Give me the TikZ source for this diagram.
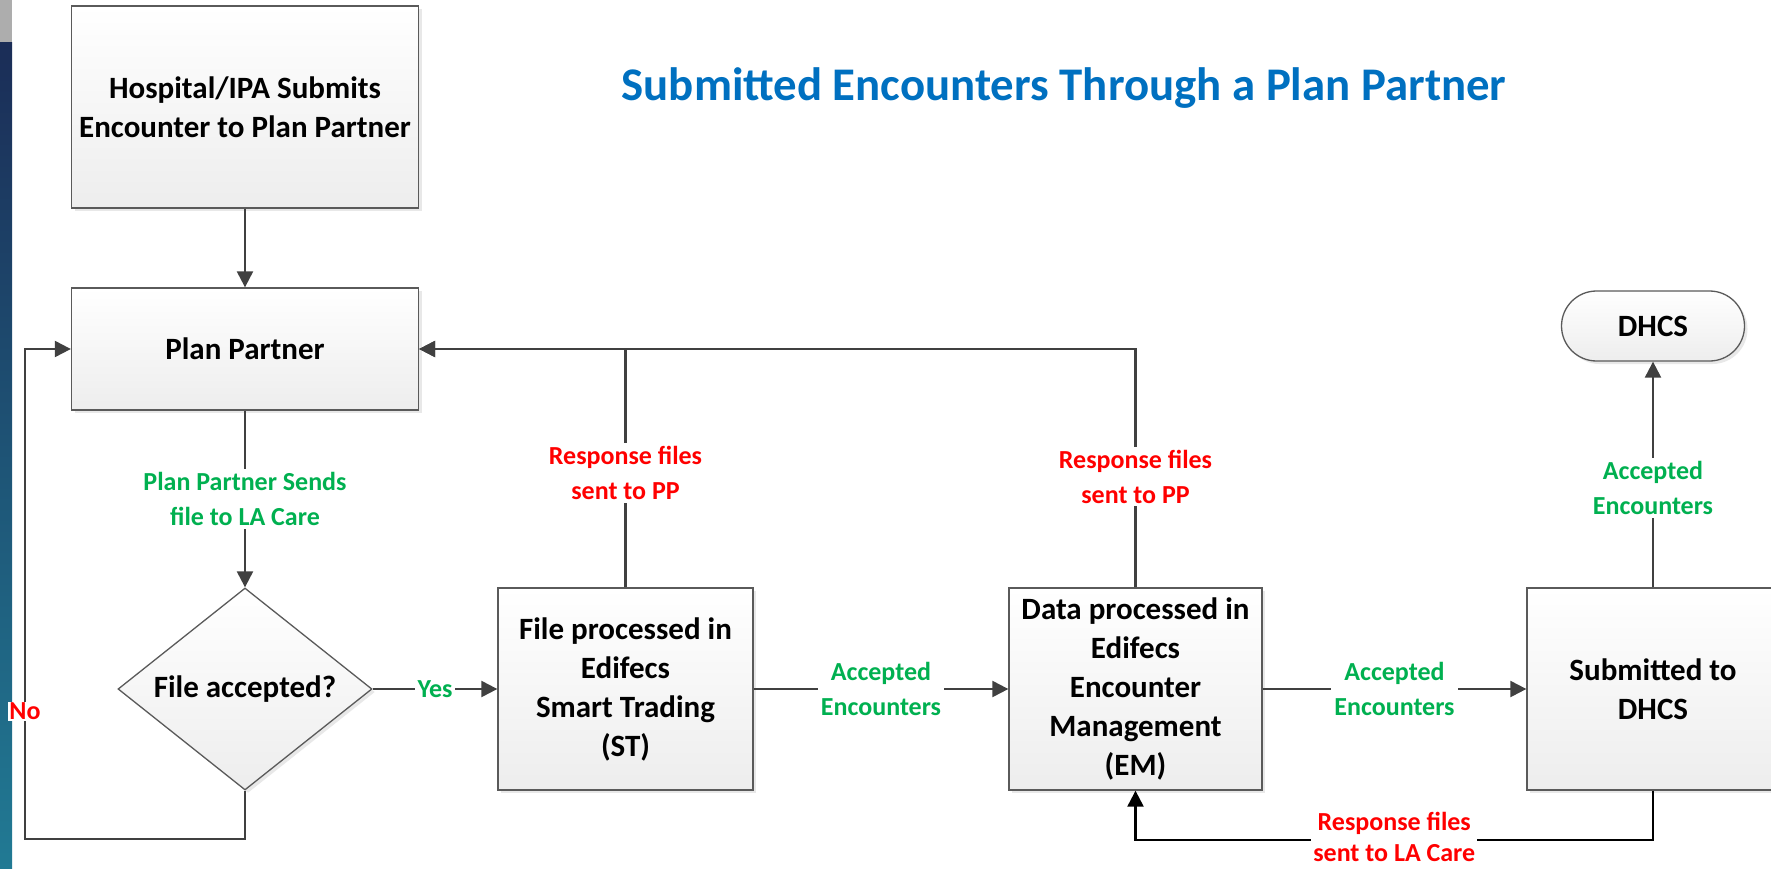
\documentclass[tikz,border=0pt]{standalone}
\usepackage{fontspec}
\setmainfont{Carlito}
\usetikzlibrary{shapes.geometric,shadows,arrows.meta}
\definecolor{lineGray}{HTML}{404040}
\definecolor{borderGray}{HTML}{5A5A5A}
\definecolor{accGreen}{HTML}{00B050}
\definecolor{respRed}{HTML}{FF0000}
\definecolor{titleBlue}{HTML}{0070C0}
\definecolor{stripTop}{HTML}{1B2D57}
\definecolor{stripMid}{HTML}{07436B}
\definecolor{stripBot}{HTML}{217A94}
\begin{document}
\begin{tikzpicture}[
   x=1pt, y=-1pt,
   box/.style={draw=borderGray, line width=1.3pt, top color=white, bottom color=black!7,
       drop shadow={shadow xshift=3pt, shadow yshift=-3pt, opacity=0.18},
       align=center, inner sep=0pt, font=\fontsize{31}{39}\selectfont\bfseries},
   decision/.style={box, shape=diamond, aspect=1.26, minimum width=254pt, minimum height=202pt},
   terminal/.style={box, rounded corners=35pt, minimum width=183pt, minimum height=70pt},
   flow/.style={draw=lineGray, line width=2.2pt, -{Triangle[length=16pt, width=16pt]}},
   lbl/.style={fill=white, align=center, inner sep=3pt, font=\fontsize{26}{35}\selectfont\bfseries},
   acclbl/.style={lbl, text=accGreen},
   resplbl/.style={lbl, text=respRed}]

\useasboundingbox (0,0) rectangle (1771,869);
\fill[black!32] (0,0) rectangle (12,43);
\shade[top color=stripTop, middle color=stripMid, bottom color=stripBot] (0,43) rectangle (12,869);

\node[text=titleBlue, font=\fontsize{46.8}{54}\selectfont\bfseries] (title) at (1064,88)
    {Submitted Encounters Through a Plan Partner};

\node[box, minimum width=347pt, minimum height=202pt] (hosp) at (245,107)
    {Hospital/IPA Submits\\Encounter to Plan Partner};
\node[box, minimum width=347pt, minimum height=122pt] (pp) at (245,349) {Plan Partner};
\node[decision] (acc) at (245,689) {File accepted?};
\node[box, minimum width=255pt, minimum height=202pt] (st) at (625.5,689)
    {File processed in\\Edifecs\\Smart Trading\\(ST)};
\node[box, minimum width=253pt, minimum height=202pt] (em) at (1135.5,689)
    {Data processed in\\Edifecs\\Encounter\\Management\\(EM)};
\node[box, minimum width=252pt, minimum height=202pt] (sub) at (1653,689)
    {Submitted to\\DHCS};
\node[terminal] (dhcs) at (1653,326) {DHCS};

\coordinate (nocorner) at (25,839);

\draw[flow] (hosp) -- (pp);
\draw[flow] (pp) -- node[acclbl] {Plan Partner Sends\\file to LA Care} (acc);
\draw[flow] (acc) -- node[acclbl] {Yes} (st);
\draw[flow] (acc.south) |- (nocorner) |- node[pos=0.13, resplbl, inner sep=1pt] {No} (pp.west);
\draw[flow] (st.north) |- node[pos=0.24, resplbl] {Response files\\sent to PP} (pp.east);
\draw[flow] (em.north) |- node[pos=0.232, resplbl] {Response files\\sent to PP} (pp.east);
\draw[flow] (st) -- node[acclbl] {Accepted\\Encounters} (em);
\draw[flow] (em) -- node[acclbl] {Accepted\\Encounters} (sub);
\draw[flow] (sub) -- node[acclbl, pos=0.44] {Accepted\\Encounters} (dhcs);
\draw[flow, draw=black] (sub.south) |- node[pos=0.75, resplbl, yshift=3pt, inner sep=2pt,
    font=\fontsize{26}{31}\selectfont\bfseries] {Response files\\sent to LA Care}
    ([yshift=-49pt]em.south) -- (em.south);

\end{tikzpicture}
\end{document}
